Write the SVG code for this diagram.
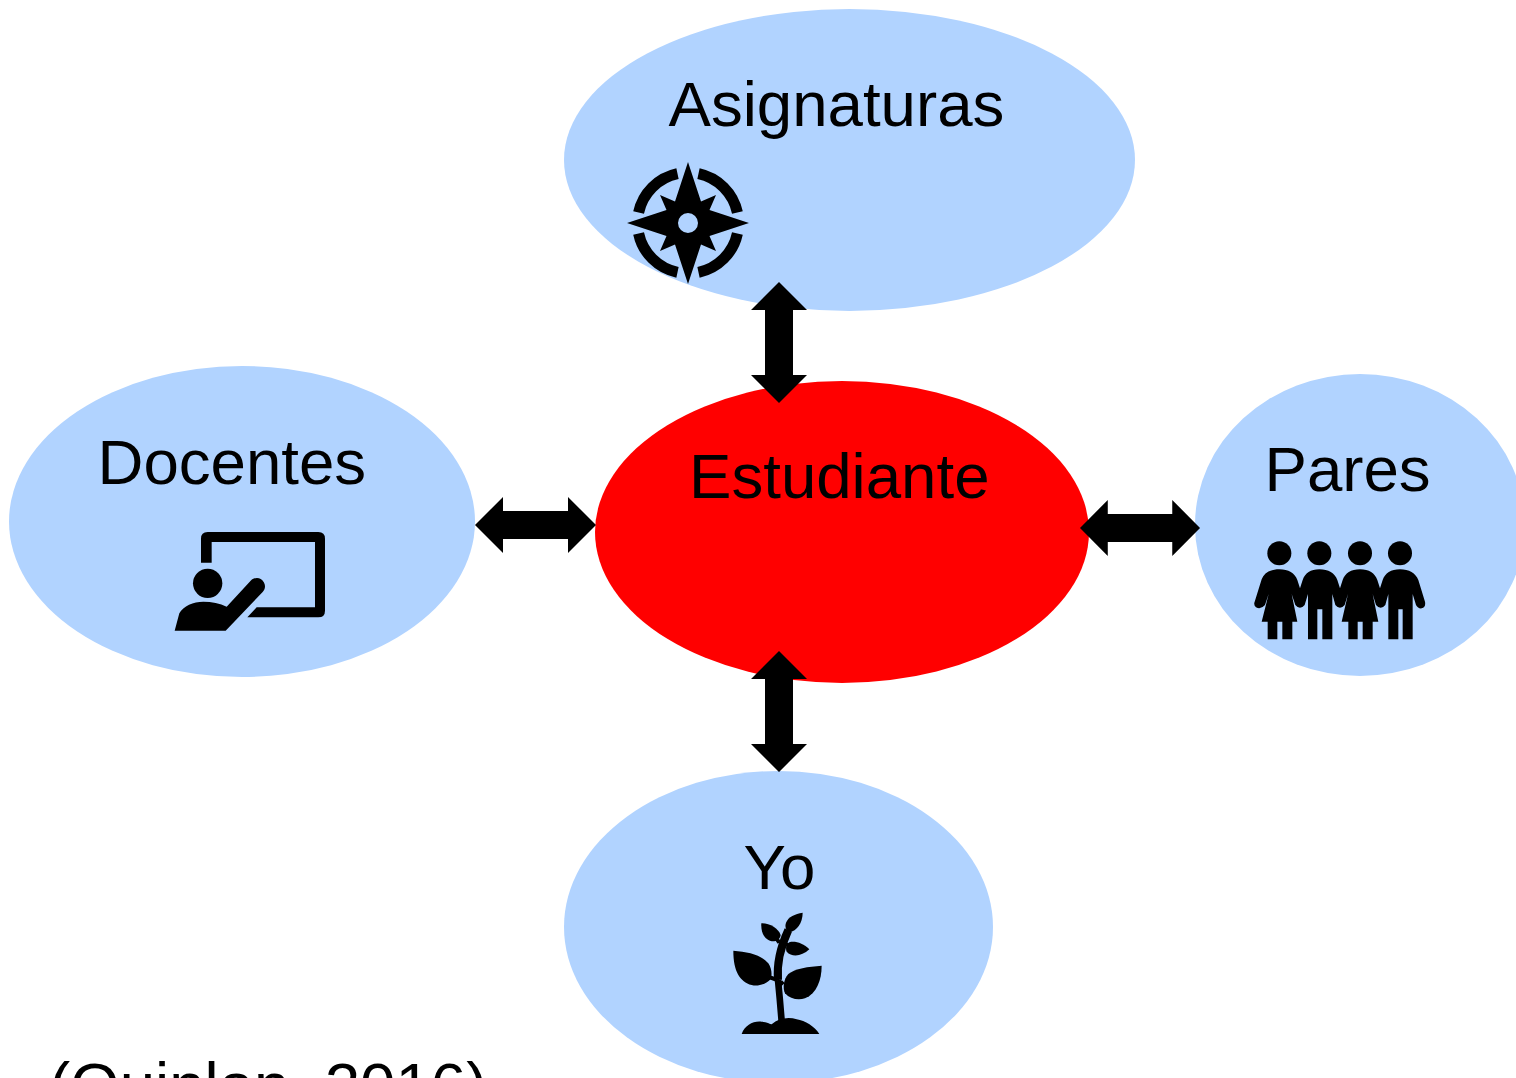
<svg xmlns="http://www.w3.org/2000/svg" width="1516" height="1078" viewBox="0 0 1516 1078">
<style>
.blue{fill:#b1d3ff}
.lbl{font-family:"Liberation Sans",Arial,sans-serif;font-size:63.6px;fill:#000}
.ic{fill:#000}
.arc{fill:none;stroke:#000;stroke-width:11}
</style>
<defs>
<path id="dbl" d="M0,0 L28,-28 L28,-14 L93,-14 L93,-28 L121,0 L93,28 L93,14 L28,14 L28,28 Z" fill="#000"/>
</defs>
<rect width="1516" height="1078" fill="#fff"/>
<g id="node-asignaturas">
<ellipse class="blue" cx="849.5" cy="160" rx="285.5" ry="151"/>
<text class="lbl" x="668.5" y="125.5">Asignaturas</text>
<g>
<path class="ic" fill-rule="evenodd" d="M688,162 L701,201.5 L716,195 L709.5,210 L749,223 L709.5,236 L716,251 L701,244.5 L688,284 L675,244.5 L660,251 L666.5,236 L627,223 L666.5,210 L660,195 L675,201.5 Z M698,223 A10,10 0 1 0 678,223 A10,10 0 1 0 698,223 Z"/>
<path class="arc" d="M698.5,173.6 A50.5,50.5 0 0 1 737.4,212.5"/>
<path class="arc" d="M737.4,233.5 A50.5,50.5 0 0 1 698.5,272.4"/>
<path class="arc" d="M677.5,272.4 A50.5,50.5 0 0 1 638.6,233.5"/>
<path class="arc" d="M638.6,212.5 A50.5,50.5 0 0 1 677.5,173.6"/>
</g>
</g>
<g id="node-docentes">
<ellipse class="blue" cx="242" cy="521.5" rx="233" ry="155.5"/>
<text class="lbl" x="97.5" y="483.5">Docentes</text>
<g transform="translate(160 520) scale(.33333)">
<path class="ic" d="M123,128 L123,56 Q123,36 143,36 L475,36 Q495,36 495,56 L495,272 Q495,292 475,292 L262,292 L290,262 L465,262 L465,66 L155,66 L155,128 Z"/>
<circle class="ic" cx="143" cy="190" r="44"/>
<path class="ic" d="M44,332 L58,280 C70,258 100,245 130,245 C155,245 180,250 200,260 L272,182 C285,170 303,172 311,186 C318,198 315,208 308,216 L197,332 Z"/>
</g>
</g>
<g id="node-estudiante">
<ellipse cx="842" cy="532" rx="247" ry="151" fill="#ff0000"/>
<text class="lbl" x="689" y="497.5">Estudiante</text>
</g>
<g id="node-pares">
<ellipse class="blue" cx="1360" cy="525" rx="165" ry="151"/>
<text class="lbl" x="1264.5" y="490.5">Pares</text>
<g transform="translate(1240 530) scale(.33333)">
<circle class="ic" cx="118" cy="70" r="36"/>
<circle class="ic" cx="238" cy="70" r="36"/>
<circle class="ic" cx="360" cy="70" r="36"/>
<circle class="ic" cx="480" cy="70" r="36"/>
<path class="ic" d="M44,215 L65,148 C72,128 92,118 118,118 C145,118 165,130 172,150 L180,175 L188,150 C195,130 212,118 238,118 C265,118 285,130 292,150 L300,175 L308,150 C315,130 333,118 360,118 C387,118 405,130 412,150 L420,175 L428,150 C435,130 453,118 480,118 C507,118 527,130 535,150 L555,215 Q558,232 545,235 Q535,237 528,225 L518,192 L518,328 L488,328 L488,238 L475,238 L475,328 L445,328 L445,192 L436,225 Q422,242 408,225 L398,192 L415,275 L398,275 L398,328 L368,328 L368,275 L353,275 L353,328 L325,328 L325,275 L305,275 L324,192 L314,225 Q300,242 286,225 L277,192 L277,328 L247,328 L247,238 L232,238 L232,328 L204,328 L204,192 L194,225 Q180,242 166,225 L155,192 L172,275 L157,275 L157,328 L127,328 L127,275 L112,275 L112,328 L83,328 L83,275 L65,275 L86,192 L75,225 Q62,240 48,232 Q40,225 44,215 Z"/>
</g>
</g>
<g id="node-yo">
<ellipse class="blue" cx="778.5" cy="927" rx="214.5" ry="156"/>
<text class="lbl" x="743.5" y="889">Yo</text>
<g transform="translate(720 900) scale(.33333)">
<path class="ic" d="M65,402 C75,375 100,362 125,365 C140,366 150,372 155,373 C175,355 205,350 230,358 C255,362 285,380 298,402 Z"/>
<path d="M185,365 Q180,300 174,240" fill="none" stroke="#000" stroke-width="20"/>
<path d="M174,240 Q168,170 205,90" fill="none" stroke="#000" stroke-width="24"/>
<path d="M150,232 L172,240 M190,245 L172,262 M205,135 L178,128 M178,128 L165,110" fill="none" stroke="#000" stroke-width="12"/>
<path class="ic" d="M40,152 C85,155 125,165 145,190 C155,205 157,225 152,238 C135,255 110,260 95,255 C60,245 40,215 40,152 Z"/>
<path class="ic" d="M305,197 C265,200 225,205 205,222 C190,238 188,265 195,280 C210,297 235,302 255,295 C290,280 305,240 305,197 Z"/>
<path class="ic" d="M248,38 C225,42 205,50 198,68 C193,82 200,92 208,97 C230,92 248,70 248,38 Z"/>
<path class="ic" d="M124,70 C150,70 175,85 182,105 C180,118 170,125 155,124 C135,120 122,100 124,70 Z"/>
<path class="ic" d="M268,148 C250,130 225,122 208,127 C198,135 196,145 200,155 C215,172 245,170 268,148 Z"/>
</g>
</g>
<g id="connectors">
<use href="#dbl" transform="translate(779 282) rotate(90)"/>
<use href="#dbl" transform="translate(779 651) rotate(90)"/>
<use href="#dbl" transform="translate(475 525)"/>
<use href="#dbl" transform="translate(1080 528) scale(.992 1)"/>
</g>
<text class="lbl" x="49" y="1107">(Quinlan, 2016)</text>
</svg>
